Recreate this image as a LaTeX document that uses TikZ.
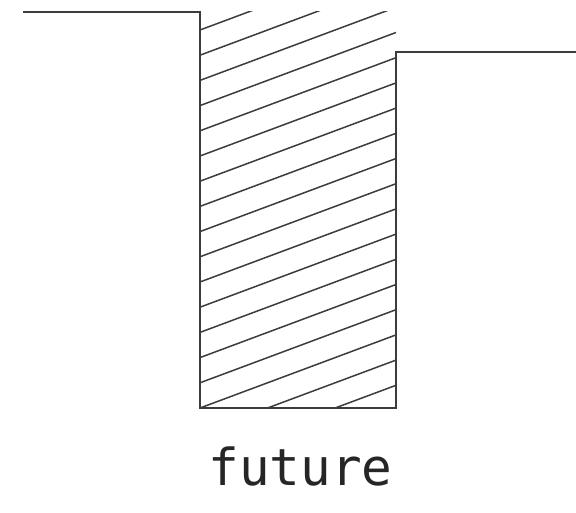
\documentclass[tikz,border=0pt]{standalone}
\usepackage{xcolor}
\definecolor{inkgray}{RGB}{60,60,60}
\usepackage{fontspec}
\newfontfamily\labelmono{DejaVu Sans Mono}
\usepackage{tikz}
\usetikzlibrary{positioning}
\newcommand{\hatchstep}{25.2}
\newcommand{\hatchrise}{73.1}

\begin{document}
\begin{tikzpicture}[x=1pt,y=-1pt,
    wall/.style={inkgray,line width=1.6pt,line join=miter},
    hatchline/.style={inkgray,line width=1.5pt},
    caption/.style={font=\labelmono\fontsize{51}{60}\selectfont,text=black!85,anchor=base,inner sep=0pt}]
  \useasboundingbox (0,0) rectangle (576,513);
  % hatched block, clipped to its box
  \begin{scope}
    \clip (200,12) rectangle (396,408);
    \foreach \k in {-2,...,15}{
      \draw[hatchline] (200,{408-\hatchstep*\k}) -- (396,{408-\hatchstep*\k-\hatchrise});}
  \end{scope}
  % ground profile
  \draw[wall] (23,12) -- (200,12) -- (200,408) -- (396,408) -- (396,52) -- (576,52);
  \node[caption] (future) at (300.5,485) {future};
\end{tikzpicture}
\end{document}
